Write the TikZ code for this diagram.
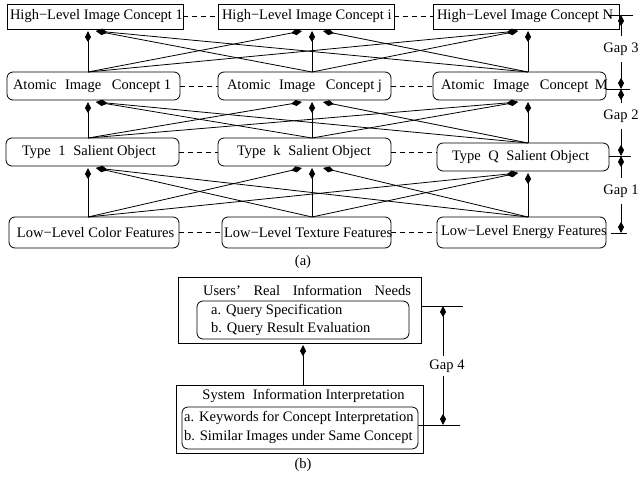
\documentclass[tikz,border=0pt]{standalone}
\usepackage{fontspec}
\setmainfont{Liberation Serif}
\usetikzlibrary{arrows.meta,calc}
\newcommand{\bxt}[3]{\makebox[#1pt][l]{\hspace{#2pt}#3}}
\begin{document}
\begin{tikzpicture}[x=1pt,y=-1pt,
  every node/.style={font=\fontsize{14.5}{18}\selectfont, inner sep=0pt},
  sqbox/.style={draw, line width=0.8pt, rectangle},
  rbox/.style={draw, line width=0.8pt, rounded corners=6pt},
  conn/.style={line width=0.8pt, -{Kite[length=11pt,width=6pt,inset=5pt]}},
  dsh/.style={line width=0.7pt, dash pattern=on 5pt off 4pt},
  tick/.style={line width=0.8pt},
  gaplbl/.style={inner sep=0pt, minimum height=26pt},
  txt/.style={anchor=west, text height=10pt, text depth=3pt},
]
\useasboundingbox (0,0) rectangle (640,477);

% ---- row 1: high-level concepts
\node[sqbox, minimum width=176, minimum height=25] (h1) at (95,16.5) {\bxt{176}{3}{High−Level Image Concept 1}};
\node[sqbox, minimum width=176, minimum height=25] (hi) at (306,16.5) {\bxt{176}{4}{High−Level Image Concept i}};
\node[sqbox, minimum width=186, minimum height=25] (hN) at (526,16.5) {\bxt{186}{4}{High−Level Image Concept N}};

% ---- row 2: atomic concepts
\node[rbox, minimum width=173, minimum height=28] (a1) at (93.5,86) {\bxt{173}{6}{Atomic\hspace{5pt} Image\hspace{7pt} Concept 1}};
\node[rbox, minimum width=173, minimum height=28] (aj) at (304.5,86) {\bxt{173}{9}{Atomic\hspace{5pt} Image\hspace{7pt} Concept j}};
\node[rbox, minimum width=173, minimum height=28] (aM) at (519.5,86) {\bxt{173}{8}{Atomic\hspace{5pt} Image\hspace{7pt} Concept\hspace{3pt} M}};

% ---- row 3: salient objects
\node[rbox, minimum width=173, minimum height=28] (s1) at (92.5,152) {\bxt{173}{16}{Type\hspace{4pt} 1\hspace{4pt} Salient Object}};
\node[rbox, minimum width=173, minimum height=28] (sk) at (304.5,152) {\bxt{173}{19}{Type\hspace{4pt} k\hspace{4pt} Salient Object}};
\node[rbox, minimum width=172, minimum height=28] (sQ) at (523,157) {\bxt{172}{15}{Type\hspace{4pt} Q\hspace{4pt} Salient Object}};

% ---- row 4: low-level features
\node[rbox, minimum width=170, minimum height=31] (l1) at (94,232.5) {\bxt{170}{8}{Low−Level Color Features}};
\node[rbox, minimum width=169, minimum height=31] (lt) at (306.5,232.5) {\bxt{169}{2}{Low−Level Texture Features}};
\node[rbox, minimum width=169, minimum height=31] (le) at (521.5,232.5) {\bxt{169}{4}{Low−Level Energy Features}};

% ---- dashed links between boxes
\draw[dsh] (h1.east) -- (hi.west);
\draw[dsh] (hi.east) -- (hN.west);
\draw[dsh] (a1.east) -- (aj.west);
\draw[dsh] (aj.east) -- (aM.west);
\draw[dsh] (s1.east) -- (sk.west);
\draw[dsh] (sk.east) -- (sk.east -| sQ.west);
\draw[dsh] (l1.east) -- (lt.west);
\draw[dsh] (lt.east) -- (le.west);

% ---- connector end points
% tips under row 1
\coordinate (hv1) at (88,31);  \coordinate (hr1) at (96,31);
\coordinate (hl2) at (302,31); \coordinate (hv2) at (312,31); \coordinate (hr2) at (323,31);
\coordinate (hl3) at (518,31); \coordinate (hv3) at (528,31);
% tips under row 2
\coordinate (av1) at (88,102);  \coordinate (ar1) at (96,102);
\coordinate (al2) at (302,102); \coordinate (av2) at (312,102); \coordinate (ar2) at (323,102);
\coordinate (al3) at (518,102); \coordinate (av3) at (528,102);
% tips under row 3
\coordinate (sv1) at (88,168);  \coordinate (sr1) at (96,168);
\coordinate (sl2) at (302,168); \coordinate (sv2) at (312,168); \coordinate (sr2) at (323,168);
\coordinate (sl3) at (518,173); \coordinate (sv3) at (528,173);
% sources on top of rows 2,3,4
\coordinate (at1) at (88,72);  \coordinate (at2) at (312,72);  \coordinate (at3) at (528,72);
\coordinate (st1) at (88,138); \coordinate (st2) at (312,138); \coordinate (st3) at (528,143);
\coordinate (lt1) at (88,217); \coordinate (lt2) at (312,217); \coordinate (lt3) at (528,217);

% row 2 -> row 1
\draw[conn] (at1) -- (hv1); \draw[conn] (at1) -- (hl2); \draw[conn] (at1) -- (hl3);
\draw[conn] (at2) -- (hr1); \draw[conn] (at2) -- (hv2); \draw[conn] (at2) -- (hl3);
\draw[conn] (at3) -- (hr1); \draw[conn] (at3) -- (hr2); \draw[conn] (at3) -- (hv3);
% row 3 -> row 2
\draw[conn] (st1) -- (av1); \draw[conn] (st1) -- (al2); \draw[conn] (st1) -- (al3);
\draw[conn] (st2) -- (ar1); \draw[conn] (st2) -- (av2); \draw[conn] (st2) -- (al3);
\draw[conn] (st3) -- (ar1); \draw[conn] (st3) -- (ar2); \draw[conn] (st3) -- (av3);
% row 4 -> row 3
\draw[conn] (lt1) -- (sv1); \draw[conn] (lt1) -- (sl2); \draw[conn] (lt1) -- (sl3);
\draw[conn] (lt2) -- (sr1); \draw[conn] (lt2) -- (sv2); \draw[conn] (lt2) -- (sl3);
\draw[conn] (lt3) -- (sr1); \draw[conn] (lt3) -- (sr2); \draw[conn] (lt3) -- (sv3);

% ---- gap markers (a)
\coordinate (k0a) at (608,15);  \coordinate (k0b) at (633,15);
\coordinate (k1a) at (606,89);  \coordinate (k1b) at (630,89);
\coordinate (k2a) at (609,156); \coordinate (k2b) at (631,156);
\coordinate (k3a) at (611,233); \coordinate (k3b) at (627,233);
\draw[tick] (k0a) -- (k0b);
\draw[tick] (k1a) -- (k1b);
\draw[tick] (k2a) -- (k2b);
\draw[tick] (k3a) -- (k3b);
\coordinate (g0) at (621,15); \coordinate (g1) at (621,89);
\coordinate (g2) at (621,156); \coordinate (g3) at (621,233);
\node[gaplbl] (gap3) at (621,49) {Gap 3};
\node[gaplbl] (gap2) at (621,116) {Gap 2};
\node[gaplbl] (gap1) at (621,191) {Gap 1};
\draw[conn] (gap3.north -| g0) -- (g0);
\draw[conn] (gap3.south -| g0) -- (g1);
\draw[conn] (gap2.north -| g0) -- (g1);
\draw[conn] (gap2.south -| g0) -- (g2);
\draw[conn] (gap1.north -| g0) -- (g2);
\draw[conn] (gap1.south -| g0) -- (g3);

\node (capa) at (303,262) {(a)};

% ---- part (b)
\node[sqbox, minimum width=243, minimum height=66] (U) at (299.5,310) {};
\node (Ut) at (307,290) {Users’\hspace{9pt} Real\hspace{9pt} Information\hspace{9pt} Needs};
\node[rbox, minimum width=212, minimum height=38] (Ui) at (303,320) {};
\node[txt] (Ua) at (211,311) {a. Query Specification};
\node[txt] (Ub) at (211,329) {b. Query Result Evaluation};

\node[sqbox, minimum width=247, minimum height=68] (S) at (299.5,419) {};
\node (St) at (303.5,396) {System\hspace{4pt} Information Interpretation};
\node[rbox, minimum width=236, minimum height=42] (Si) at (300,428) {};
\node[txt] (Sa) at (184,418) {a. Keywords for Concept Interpretation};
\node[txt] (Sb) at (184,437) {b. Similar Images under Same Concept};

\coordinate (Sup) at (303,385);
\coordinate (Utip) at (303,345);
\draw[conn] (Sup) -- (Utip);

% gap 4
\coordinate (k4a) at (421,306); \coordinate (k4b) at (463,306);
\coordinate (k5a) at (418,425); \coordinate (k5b) at (460,425);
\draw[tick] (k4a) -- (k4b);
\draw[tick] (k5a) -- (k5b);
\coordinate (g4) at (443,306); \coordinate (g5) at (443,425);
\node[gaplbl, minimum height=20pt] (gap4) at (447,366) {Gap 4};
\draw[conn] (gap4.north -| g4) -- (g4);
\draw[conn] (gap4.south -| g4) -- (g5);

\node (capb) at (303,465) {(b)};
\end{tikzpicture}
\end{document}
